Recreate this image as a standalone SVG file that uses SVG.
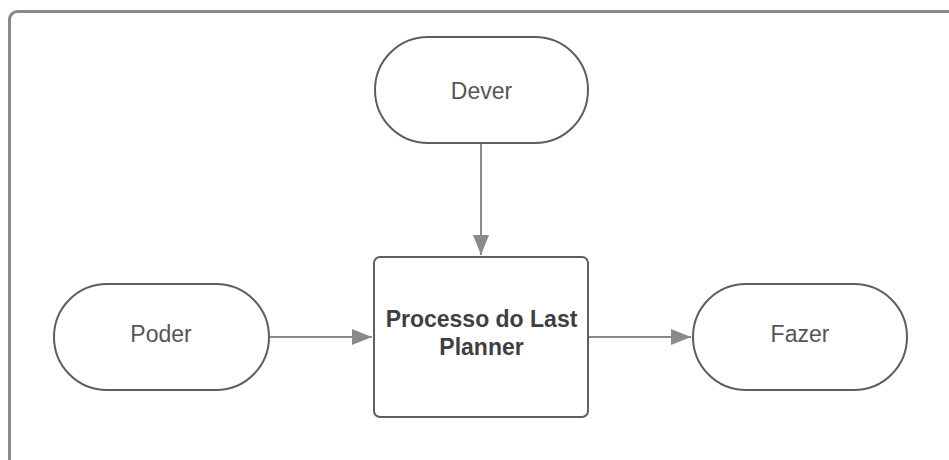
<svg xmlns="http://www.w3.org/2000/svg" width="949" height="460" viewBox="0 0 949 460">
  <style>
    .frame { fill: #ffffff; stroke: #8a8a8a; stroke-width: 3; }
    .shape { fill: #ffffff; stroke: #5e5e5e; stroke-width: 2; }
    .label { font-family: "Liberation Sans", Arial, sans-serif; font-size: 23px; fill: #555555; text-anchor: middle; dominant-baseline: central; }
    .bold { font-weight: bold; fill: #3f3f3f; }
    .edge { stroke: #8a8a8a; stroke-width: 2; fill: none; }
  </style>
  <defs>
    <marker id="arrow" viewBox="0 0 20 16" refX="20" refY="8" markerWidth="20" markerHeight="16" markerUnits="userSpaceOnUse" orient="auto">
      <path d="M0,0 L20,8 L0,16 Z" fill="#8a8a8a"/>
    </marker>
  </defs>
  <rect width="949" height="460" fill="#ffffff"/>
  <rect class="frame" x="9.5" y="11.5" width="960" height="480" rx="8"/>

  <g id="connectors">
    <line class="edge" x1="481" y1="144" x2="481" y2="255" marker-end="url(#arrow)"/>
    <line class="edge" x1="270" y1="337" x2="372" y2="337" marker-end="url(#arrow)"/>
    <line class="edge" x1="589" y1="337" x2="691" y2="337" marker-end="url(#arrow)"/>
  </g>

  <g id="dever">
    <rect class="shape" x="375" y="37" width="213" height="106" rx="53"/>
    <text class="label" x="481.5" y="91">Dever</text>
  </g>
  <g id="processo">
    <rect class="shape" x="374" y="257" width="214" height="160" rx="6"/>
    <text class="label bold" x="481.5" y="319">Processo do Last</text>
    <text class="label bold" x="481.5" y="347">Planner</text>
  </g>
  <g id="poder">
    <rect class="shape" x="54" y="284" width="215" height="106" rx="53"/>
    <text class="label" x="161" y="334">Poder</text>
  </g>
  <g id="fazer">
    <rect class="shape" x="693" y="284" width="214" height="106" rx="53"/>
    <text class="label" x="800" y="334">Fazer</text>
  </g>
</svg>
